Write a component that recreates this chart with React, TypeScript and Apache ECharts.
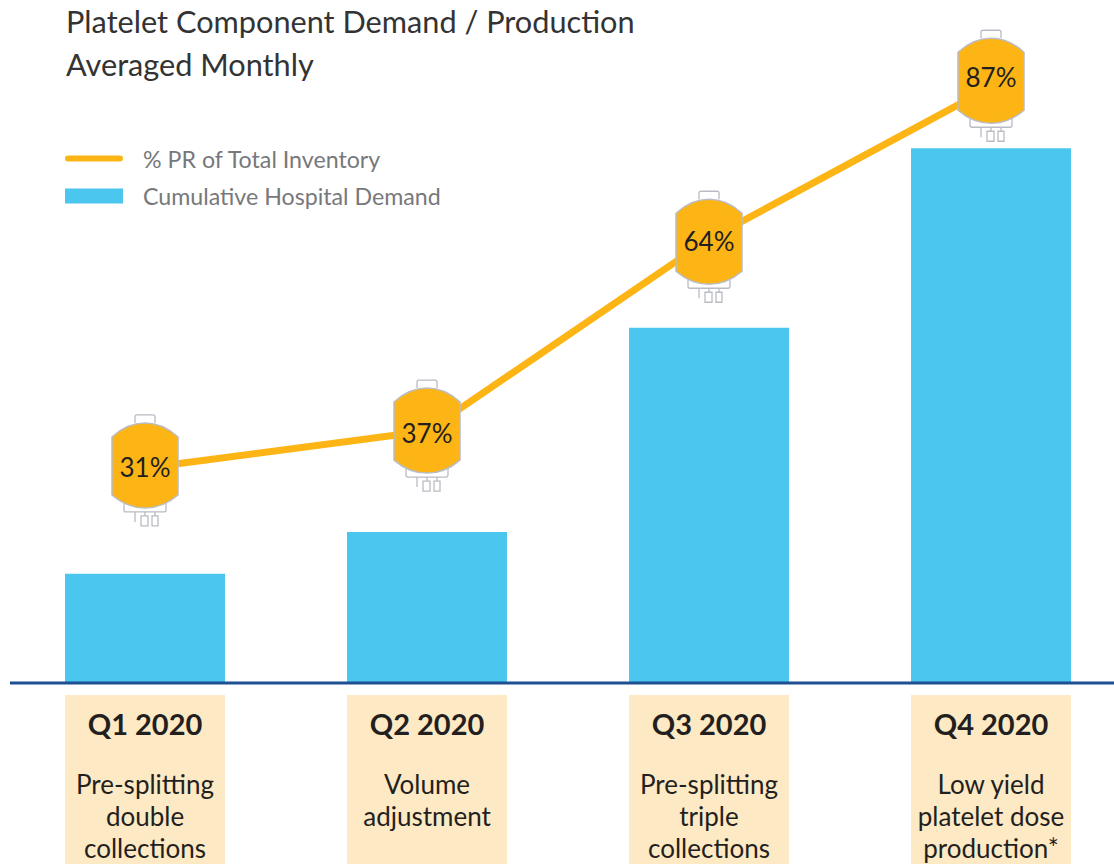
import React, { useEffect, useRef } from "react";
import * as echarts from "echarts";

const quarters = ["Q1 2020", "Q2 2020", "Q3 2020", "Q4 2020"];
const descriptions = [
  ["Pre-splitting", "double", "collections"],
  ["Volume", "adjustment", " "],
  ["Pre-splitting", "triple", "collections"],
  ["Low yield", "platelet dose", "production*"],
];
const demandValues = [16, 22.1, 52, 78.3];
const prLineHeights = [30.85, 36.15, 63.7, 85.5];
const prBagHeights = [31, 36, 63.1, 86.2];
const prLabels = ["31%", "37%", "64%", "87%"];
const prLabelNudge = [0, 1, -2, -5];

const FONT = "Lato";
const STROKE = "#b9bcc4";
const bodyPath = "M-33,-30 Q-18,-44 0,-44 Q18,-44 33,-30 L33,28 Q18,41 0,41 Q-18,41 -33,28 Z";
const partsPath =
  "M-10,-44 L-10,-50 Q-10,-52 -8,-52 L8,-52 Q10,-52 10,-50 L10,-44 " +
  "M-21,36 L-21,43 Q-21,45 -19,45 L19,45 Q21,45 21,43 L21,36 " +
  "M-10,45 L-10,55 M0,45 L0,49 M10,45 L10,49 " +
  "M-4,49 L3,49 L3,59 L-4,59 Z M7,49 L13,49 L13,59 L7,59 Z";
const lineIcon = "path://M0,0 M59,15 M3,4.5 L56,4.5 A3,3 0 0 1 56,10.5 L3,10.5 A3,3 0 0 1 3,4.5 Z";

export default function App() {
  const ref = useRef<HTMLDivElement>(null);
  useEffect(() => {
    document.body.style.margin = "0";
    document.body.style.overflow = "hidden";
    const chart = echarts.init(ref.current!, null, { renderer: "svg" });
    chart.setOption({
      animation: false,
      title: {
        text: "Platelet Component Demand / Production\nAveraged Monthly",
        left: 66,
        top: 0,
        padding: 0,
        textStyle: { fontFamily: FONT, fontSize: 30.7, fontWeight: 400, color: "#333333", lineHeight: 43 },
      },
      legend: {
        left: 65,
        top: 147,
        orient: "vertical",
        padding: 0,
        itemWidth: 58,
        itemHeight: 15,
        itemGap: 14.5,
        data: [
          { name: "% PR of Total Inventory", icon: lineIcon },
          { name: "Cumulative Hospital Demand", icon: "rect" },
        ],
        textStyle: { fontFamily: FONT, fontSize: 23.2, color: "#77787b", padding: [0, 0, 9, 15] },
      },
      grid: { left: 4, top: 0, width: 1128, height: 683, outerBoundsMode: "none" },
      xAxis: {
        type: "category",
        data: quarters,
        axisTick: { show: false },
        axisLine: { show: false },
        axisLabel: {
          margin: 12,
          interval: 0,
          formatter: (_: string, i: number) =>
            `{q|${quarters[i]}}\n{s| }\n` + descriptions[i].map((d) => `{d|${d}}`).join("\n"),
          backgroundColor: "#fde9c4",
          width: 160,
          align: "center",
          rich: {
            q: { fontFamily: FONT, fontSize: 29, fontWeight: 700, color: "#231f20", lineHeight: 56, align: "center" },
            s: { fontSize: 10, lineHeight: 17 },
            d: { fontFamily: FONT, fontSize: 26, color: "#231f20", lineHeight: 32, align: "center" },
          },
        },
      },
      yAxis: [
        { type: "value", min: 0, max: 100, show: false },
        { type: "value", min: 0, max: 98, show: false },
      ],
      series: [
        {
          name: "Cumulative Hospital Demand",
          type: "bar",
          data: demandValues,
          barWidth: 160,
          itemStyle: { color: "#4ac6ef" },
          z: 1,
        },
        {
          name: "% PR of Total Inventory",
          type: "line",
          yAxisIndex: 1,
          data: prLineHeights,
          showSymbol: false,
          symbol: "none",
          lineStyle: { color: "#fdb515", width: 7, cap: "round" },
          itemStyle: { color: "#fdb515" },
          z: 2,
        },
        {
          name: "PR bags",
          type: "custom",
          yAxisIndex: 1,
          data: prBagHeights,
          z: 3,
          clip: false,
          renderItem: (params: any, api: any) => {
            const [x, y] = api.coord([api.value(0), api.value(1)]);
            return {
              type: "group",
              x,
              y,
              children: [
                { type: "path", shape: { pathData: partsPath }, style: { fill: "none", stroke: STROKE, lineWidth: 1.3 } },
                { type: "path", shape: { pathData: bodyPath }, style: { fill: "#fdb515", stroke: STROKE, lineWidth: 1.5 } },
                {
                  type: "text",
                  style: {
                    text: prLabels[params.dataIndex],
                    x: 0,
                    y: prLabelNudge[params.dataIndex],
                    align: "center",
                    verticalAlign: "middle",
                    fontFamily: FONT,
                    fontSize: 26,
                    fill: "#231f20",
                  },
                },
              ],
            };
          },
        },
      ],
      graphic: [
        {
          type: "line",
          z: 10,
          shape: { x1: 10, y1: 683, x2: 1114, y2: 683 },
          style: { stroke: "#1d4f91", lineWidth: 3 },
        },
      ],
    });
    return () => chart.dispose();
  }, []);
  return <div ref={ref} style={{ width: 1114, height: 864 }} />;
}
